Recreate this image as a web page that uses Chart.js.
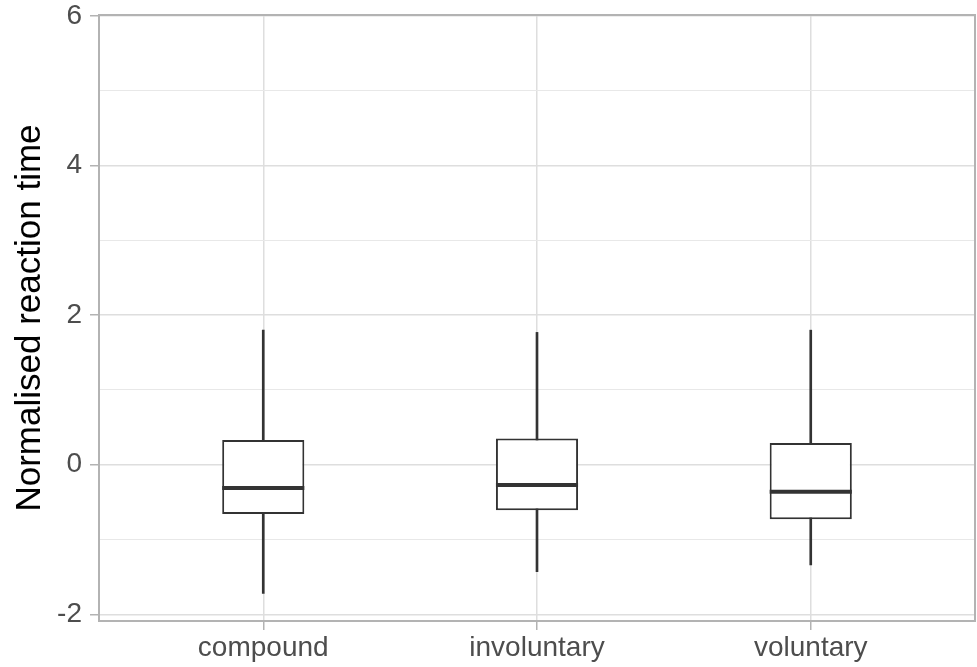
<!DOCTYPE html>
<html>
<head>
<meta charset="utf-8">
<script src="https://cdn.jsdelivr.net/npm/chart.js@4.4.1/dist/chart.umd.min.js"></script>
<style>
  body { margin: 0; background: #ffffff; }
  #wrap { width: 977px; height: 667px; position: relative; }
</style>
</head>
<body>
<div id="wrap"><canvas id="boxChart"></canvas></div>
<script>
// values
const categories = ["compound", "involuntary", "voluntary"];
const whiskerLow = [-1.72, -1.43, -1.34];
const lowerQuartile = [-0.66, -0.61, -0.73];
const medians = [-0.31, -0.27, -0.36];
const upperQuartile = [0.33, 0.35, 0.29];
const whiskerHigh = [1.80, 1.77, 1.80];
const yTickValues = [-2, -1, 0, 1, 2, 3, 4, 5, 6];
const yLabelValues = [-2, 0, 2, 4, 6];

const boxColor = "#333333";
const gridMajor = "#dedede";
const gridMinor = "#e8e8e8";
const borderGrey = "#b3b3b3";

const boxData = categories.map((c, i) => ({ x: i, y: [lowerQuartile[i], upperQuartile[i]] }));
const whiskerData = categories.map((c, i) => ({ x: i, y: [whiskerLow[i], whiskerHigh[i]] }));

// median lines drawn on top of the boxes
const medianPlugin = {
  id: "medianLines",
  afterDatasetsDraw(chart) {
    const ctx = chart.ctx;
    const yScale = chart.scales.y;
    const meta = chart.getDatasetMeta(0);
    ctx.save();
    ctx.strokeStyle = boxColor;
    ctx.lineWidth = 4;
    meta.data.forEach((bar, i) => {
      const y = yScale.getPixelForValue(medians[i]);
      ctx.beginPath();
      ctx.moveTo(bar.x - bar.width / 2, y);
      ctx.lineTo(bar.x + bar.width / 2, y);
      ctx.stroke();
    });
    ctx.restore();
  },
};

// grey frame round the panel
const panelBorder = {
  id: "panelBorder",
  afterDraw(chart) {
    const a = chart.chartArea;
    const ctx = chart.ctx;
    ctx.save();
    ctx.strokeStyle = borderGrey;
    ctx.lineWidth = 2;
    ctx.strokeRect(a.left, a.top, a.right - a.left, a.bottom - a.top);
    ctx.restore();
  },
};

const chart = new Chart(document.getElementById("boxChart"), {
  type: "bar",
  data: {
    datasets: [
      {
        label: "box",
        data: boxData,
        backgroundColor: "#ffffff",
        borderColor: boxColor,
        borderWidth: 2,
        borderSkipped: false,
        barPercentage: 0.3,
        categoryPercentage: 1,
        grouped: false,
      },
      {
        label: "whisker",
        data: whiskerData,
        backgroundColor: boxColor,
        borderWidth: 0,
        barThickness: 2,
        grouped: false,
      },
    ],
  },
  options: {
    responsive: true,
    maintainAspectRatio: false,
    animation: false,
    layout: { padding: { top: 15, right: 2, left: 0, bottom: 0 } },
    plugins: {
      legend: { display: false },
      tooltip: { enabled: false },
    },
    scales: {
      x: {
        type: "linear",
        offset: false,
        min: -0.6,
        max: 2.6,
        afterBuildTicks: (scale) => {
          scale.ticks = categories.map((c, i) => ({ value: i }));
        },
        afterFit: (scale) => {
          scale.height = 46;
          scale.paddingLeft = 0;
          scale.paddingRight = 0;
        },
        border: { display: false },
        grid: {
          offset: false,
          color: gridMajor,
          lineWidth: 1.5,
          tickLength: 9,
          tickColor: borderGrey,
          tickWidth: 1.5,
        },
        ticks: {
          autoSkip: false,
          maxRotation: 0,
          padding: 1,
          color: "#4d4d4d",
          font: { family: "'Liberation Sans', Arial, sans-serif", size: 28 },
          callback: (value) => categories[value],
        },
      },
      y: {
        min: -2.09,
        max: 6.015,
        afterBuildTicks: (scale) => {
          scale.ticks = yTickValues.map((v) => ({ value: v }));
        },
        afterFit: (scale) => {
          scale.width = 99;
          scale.paddingTop = 0;
          scale.paddingBottom = 0;
        },
        border: { display: false },
        grid: {
          color: (ctx) => (yLabelValues.includes(ctx.tick.value) ? gridMajor : gridMinor),
          lineWidth: (ctx) => (yLabelValues.includes(ctx.tick.value) ? 1.5 : 1),
          tickLength: 9,
          tickColor: (ctx) => (yLabelValues.includes(ctx.tick.value) ? borderGrey : "rgba(0,0,0,0)"),
          tickWidth: 1.5,
        },
        ticks: {
          padding: 8,
          color: "#4d4d4d",
          font: { family: "'Liberation Sans', Arial, sans-serif", size: 28 },
          callback: (value) => (yLabelValues.includes(value) ? String(value) : ""),
        },
        title: {
          display: true,
          text: "Normalised reaction time",
          color: "#000000",
          padding: { top: 9, bottom: 0 },
          font: { family: "'Liberation Sans', Arial, sans-serif", size: 35 },
        },
      },
    },
  },
  plugins: [medianPlugin, panelBorder],
});
</script>
</body>
</html>
